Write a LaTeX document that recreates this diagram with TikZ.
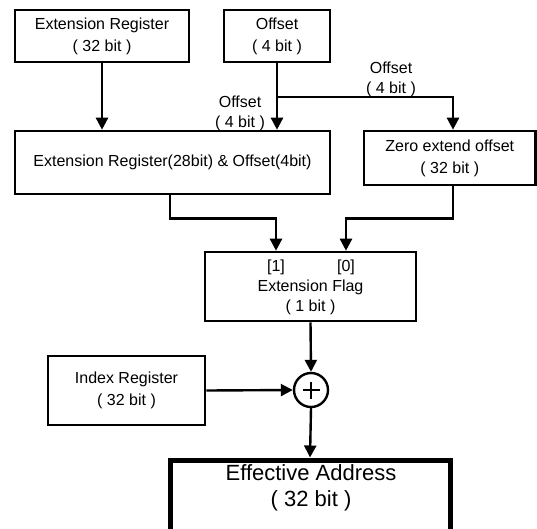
\documentclass[tikz,border=0pt]{standalone}
\usepackage{fontspec}
\setmainfont{Liberation Sans}
\usetikzlibrary{arrows.meta}
\begin{document}
\begin{tikzpicture}[x=1pt,y=-1pt,
  box/.style={draw,line width=2.6pt,inner sep=0pt,align=center,font=\fontsize{16}{22}\selectfont},
  arr/.style={line width=2.4pt,-{Triangle[length=12pt,width=12pt]}},
  lbl/.style={align=center,inner sep=0pt,font=\fontsize{16}{20}\selectfont}]
\useasboundingbox (0,0) rectangle (537,528);
\clip (0,0) rectangle (537,528);
\node[box,minimum width=174,minimum height=52] (er) at (102,36) {Extension Register\\( 32 bit )};
\node[box,minimum width=106,minimum height=52] (off) at (277,36) {Offset\\( 4 bit )};
\node[box,minimum width=315,minimum height=63] (cat) at (172.5,162.5) {Extension Register(28bit) \& Offset(4bit)};
\node[box,minimum width=171.5,minimum height=54] (zx) at (449.75,158) {Zero extend offset\\( 32 bit )};
\node[box,minimum width=211,minimum height=69] (ef) at (310.5,286.5) {};
\node[lbl] (eft) at (310.5,297) {Extension Flag\\( 1 bit )};
\node[lbl] (b1) at (276,267) {[1]};
\node[lbl] (b0) at (346,267) {[0]};
\node[draw,circle,line width=2.4pt,minimum size=34,inner sep=0pt] (add) at (311,390) {};
\node[box,minimum width=157,minimum height=69] (idx) at (126.5,390.5) {Index Register\\( 32 bit )};
\node[draw,line width=5pt,minimum width=280,minimum height=100,inner sep=0pt] (ea) at (310,510) {};
\node[align=center,inner sep=0pt,font=\fontsize{22}{26}\selectfont] (eat) at (311,488) {Effective Address\\( 32 bit )};
\node[lbl] (l1) at (240,113) {Offset\\( 4 bit )};
\node[lbl] (l2) at (391,79) {Offset\\( 4 bit )};
\coordinate (br) at (277,97);
\draw[arr] (er.south) -- (er.south |- cat.north);
\draw[arr] (off.south) -- (off.south |- cat.north);
\draw[arr] (br) -| ([xshift=3.25pt]zx.north);
\draw[arr] ([xshift=-2.5pt]cat.south) -- ++(0,23) -| ([xshift=-34.5pt]ef.north);
\draw[arr] ([xshift=3.25pt]zx.south) -- ++(0,32) -| ([xshift=35.5pt]ef.north);
\draw[arr] (ef.south) -- (add.north);
\draw[arr] (idx.east) -- (add.west);
\draw[arr] (add.south) -- (ea.north);
\draw[line width=2.4pt] ([xshift=-8.5pt]add.center) -- ([xshift=8.5pt]add.center);
\draw[line width=2.4pt] ([yshift=-8.5pt]add.center) -- ([yshift=8.5pt]add.center);
\end{tikzpicture}
\end{document}
